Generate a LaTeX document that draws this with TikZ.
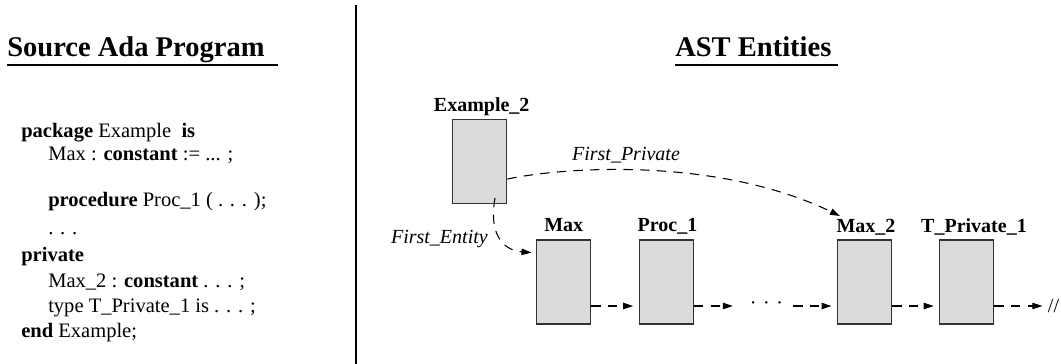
\documentclass[tikz,border=0pt]{standalone}
\usepackage{fontspec}
\setmainfont{Liberation Serif}
\usetikzlibrary{arrows.meta,calc}
\definecolor{boxfill}{gray}{0.86}
\definecolor{boxline}{gray}{0.2}
\tikzset{
  entity/.style={draw=boxline, fill=boxfill, line width=1pt,
    minimum width=40.5pt, minimum height=63pt, inner sep=0pt},
  elabel/.style={font=\fontsize{15}{18}\selectfont\bfseries, anchor=base, inner sep=0pt},
  link/.style={dash pattern=on 7pt off 5.5pt, line width=0.8pt,
    -{Triangle[length=7.5pt,width=4.8pt]}},
  code/.style={anchor=base west, inner sep=0pt, font=\fontsize{15.4}{18}\selectfont},
  header/.style={anchor=base west, inner sep=0pt, font=\fontsize{21.4}{25}\selectfont\bfseries},
  role/.style={font=\fontsize{15}{18}\selectfont\itshape, inner sep=0pt},
  rule/.style={line width=2pt}
}
\begin{document}
\begin{tikzpicture}[x=0.75pt,y=-0.75pt]
\path[use as bounding box] (0,0) rectangle (1061,364);

% column headings and divider
\node[header] (hsrc) at (7,56) {Source Ada Program};
\node[header] (hast) at (675,56) {AST Entities};
\draw[rule] (7,65) -- (278,65);
\draw[rule] (675,65) -- (838,65);
\draw[line width=1.5pt] (356,5) -- (356,364);

% Ada source listing
\node[code] (l1) at (21,137.7) {\textbf{package} Example\ \ \textbf{is}};
\node[code] (l2) at (48,160.7) {Max : \textbf{constant} := ... ;};
\node[code] (l3) at (48,206) {\textbf{procedure} Proc\_1 ( . . . );};
\node[code] (l4) at (48,234) {. . .};
\node[code] (l5) at (21,261.7) {\textbf{private}};
\node[code] (l6) at (48,287) {Max\_2 : \textbf{constant} . . . ;};
\node[code] (l7) at (48,312) {type T\_Private\_1 is . . . ;};
\node[code] (l8) at (21,337) {\textbf{end} Example;};

% entities
\node[entity] (ex2) at (479.7,161.7) {};
\node[elabel] (ex2l) at (481.7,111.7) {Example\_2};
\node[entity] (max) at (563.8,282) {};
\node[elabel] (maxl) at (563.8,231.7) {Max};
\node[entity] (proc) at (666.2,282) {};
\node[elabel] (procl) at (667.5,231.7) {Proc\_1};
\node[entity] (max2) at (864.5,282) {};
\node[elabel] (max2l) at (866,232.3) {Max\_2};
\node[entity] (tpriv) at (966.7,282) {};
\node[elabel] (tprivl) at (974,232.3) {T\_Private\_1};

% elided entities and end of chain
\node[anchor=mid, inner ysep=0pt, inner xsep=7.5pt, font=\fontsize{15}{18}\selectfont]
  (dots) at (766.5,306) {\textperiodcentered\hspace{5pt}\textperiodcentered\hspace{5pt}\textperiodcentered};
\node[inner sep=0pt, font=\fontsize{15}{18}\selectfont] (stop) at (1053.5,306) {//};

% chain of next-entity links
\draw[link, shorten >=4pt] ([yshift=-18pt]max.east) -- ([yshift=-18pt]proc.west);
\draw[link, shorten >=5pt] ([yshift=-18pt]proc.east) -- (dots.mid west);
\draw[link, shorten >=4pt] (dots.mid east) -- ([yshift=-18pt]max2.west);
\draw[link, shorten >=4pt] ([yshift=-18pt]max2.east) -- ([yshift=-18pt]tpriv.west);
\draw[link, shorten >=4pt] ([yshift=-18pt]tpriv.east) -- (stop.west);

% package-level links
\coordinate (fpend) at (840,216);
\draw[link] ([yshift=-13pt]ex2.east) .. controls (570,166) and (720,158) .. (fpend);
\node[role, anchor=base] (fpl) at (626,160) {First\_Private};

\draw[link, shorten >=3.5pt] ([xshift=11.5pt,yshift=-27.2pt]ex2.center)
  .. controls (489,230) and (500,250) .. ([yshift=21.75pt]max.west);
\node[role, anchor=base east] (fel) at (488,243.3) {First\_Entity};
\end{tikzpicture}
\end{document}
